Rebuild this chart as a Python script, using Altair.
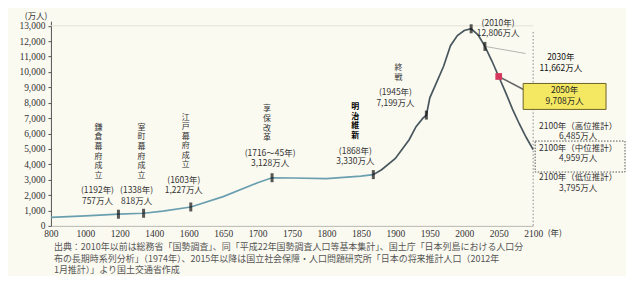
import altair as alt
import pandas as pd

# ---------------- data (万人) ----------------
years = [800, 1000, 1192, 1338, 1450, 1603, 1650, 1700, 1721, 1750, 1800, 1850, 1868,
         1880, 1900, 1920, 1930, 1940, 1945, 1950, 1960, 1970, 1980, 1990, 2000, 2010,
         2020, 2030, 2040, 2050, 2060, 2070, 2080, 2090, 2100]
population = [551, 650, 757, 818, 960, 1227, 1900, 2800, 3128, 3110, 3065, 3228, 3330,
              3650, 4385, 5596, 6445, 7000, 7199, 8320, 9342, 10372, 11706, 12361, 12693, 12806,
              12410, 11662, 10728, 9708, 8674, 7590, 6620, 5740, 4959]
split_year = 1868

x_ticks = [800, 1000, 1200, 1400, 1600, 1650, 1700, 1750, 1800, 1850, 1900, 1950, 2000, 2050, 2100]
y_ticks = list(range(0, 13001, 1000))

event_years = [1192, 1338, 1603, 1721, 1868, 1945]
event_pop = [757, 818, 1227, 3128, 3330, 7199]
event_names = ["鎌倉幕府成立", "室町幕府成立", "江戸幕府成立", "享保改革", "明治維新", "終戦"]
event_year_labels = ["(1192年)", "(1338年)", "(1603年)", "(1716〜45年)", "(1868年)", "(1945年)"]
event_pop_labels = ["757万人", "818万人", "1,227万人", "3,128万人", "3,330万人", "7,199万人"]

marker_years = [1192, 1338, 1603, 1721, 1868, 1945, 2010, 2030]
marker_pop = [757, 818, 1227, 3128, 3330, 7199, 12806, 11662]

peak = (2010, 12806, "(2010年)\n12,806万人")
y2030 = (2030, 11662, "2030年\n11,662万人")
y2050 = (2050, 9708, "2050年\n9,708万人")
proj_labels = ["2100年（高位推計）\n6,485万人", "2100年（中位推計）\n4,959万人", "2100年（低位推計）\n3,795万人"]
proj_pop = [6485, 4959, 3795]

callout_2050 = ([2050, 2086], [9708, 8860])
callout_2030 = ([2030, 2089], [11662, 11200])
guide_2100 = (2100, 12600, 0)

caption = [
    "出典：2010年以前は総務省「国勢調査」、同「平成22年国勢調査人口等基本集計」、国土庁「日本列島における人口分",
    "　　　布の長期時系列分析」（1974年）、2015年以降は国立社会保障・人口問題研究所「日本の将来推計人口（2012年",
    "　　　1月推計）」より国土交通省作成",
]

# ---------------- styles ----------------
FONT_JP = "Noto Sans CJK JP"
FONT_NUM = "Liberation Serif"
TXT = "#333333"

xscale = alt.Scale(domain=[800, 1600, 2100], range=[0, 138, 483], nice=False, zero=False)
yscale = alt.Scale(domain=[0, 13300], nice=False, zero=True)

X = alt.X("year:Q", scale=xscale,
          axis=alt.Axis(values=x_ticks, format="d", title="(年)", titleX=497, titleY=3,
                        titleAlign="left", titleBaseline="top", titleFontWeight="normal",
                        titleFont=FONT_JP, titleFontSize=8.5, titleColor=TXT,
                        labelFont=FONT_NUM, labelFontSize=9.5, labelPadding=3, labelColor=TXT,
                        ticks=False, domainColor="#b8b8b0", grid=False,
                        labelOverlap=False, labelFlush=False))
Y = alt.Y("pop:Q", scale=yscale,
          axis=alt.Axis(values=y_ticks, format=",d", title="(万人)", titleAngle=0,
                        titleX=-4, titleY=-3, titleAlign="right", titleBaseline="alphabetic",
                        titleFont=FONT_JP, titleFontSize=8.5, titleFontWeight="normal",
                        titleColor=TXT, labelFont=FONT_NUM, labelFontSize=9.5, labelColor=TXT,
                        labelPadding=3, tickSize=3, tickColor="#555", domainColor="#555",
                        grid=False))

line_df = pd.DataFrame({"year": years, "pop": population})

layers = []

# faint top line at 13,000
layers.append(alt.Chart(pd.DataFrame({"year": [800], "x2": [2100], "pop": [13000]}))
              .mark_rule(color="#e2e2d8", strokeWidth=1)
              .encode(x=X, x2="x2:Q", y=Y))

# dotted guide at 2100
layers.append(alt.Chart(pd.DataFrame({"year": [guide_2100[0]], "pop": [guide_2100[1]], "p2": [guide_2100[2]]}))
              .mark_rule(color="#888", strokeDash=[1.5, 2], strokeWidth=1)
              .encode(x=X, y=Y, y2="p2:Q"))

# population line
layers.append(alt.Chart(line_df).transform_filter(alt.datum.year <= split_year)
              .mark_line(color="#6a9fb0", strokeWidth=1.7).encode(x=X, y=Y))
layers.append(alt.Chart(line_df).transform_filter(alt.datum.year >= split_year)
              .mark_line(color="#48575e", strokeWidth=1.7).encode(x=X, y=Y))

# connectors
layers.append(alt.Chart(pd.DataFrame({"year": callout_2030[0], "pop": callout_2030[1]}))
              .mark_line(color="#b5b5b0", strokeWidth=1).encode(x=X, y=Y))
layers.append(alt.Chart(pd.DataFrame({"year": callout_2050[0], "pop": callout_2050[1]}))
              .mark_line(color="#666", strokeWidth=1.5).encode(x=X, y=Y))

# boxes
layers.append(alt.Chart(pd.DataFrame({"year": [y2050[0]], "pop": [y2050[1]]}))
              .mark_rect(width=83, height=26, xOffset=66, yOffset=20, fill="#f4e862",
                         stroke="#6b6226", strokeWidth=1)
              .encode(x=X, y=Y))
layers.append(alt.Chart(pd.DataFrame({"year": [2100], "pop": [proj_pop[1]]}))
              .mark_rect(width=90, height=31, xOffset=47, yOffset=7, fillOpacity=0,
                         stroke="#555", strokeDash=[1.5, 1.5], strokeWidth=1)
              .encode(x=X, y=Y))

# markers
layers.append(alt.Chart(pd.DataFrame({"year": marker_years, "pop": marker_pop}))
              .mark_tick(orient="vertical", thickness=3, size=9, color="#111")
              .encode(x=X, y=Y))
layers.append(alt.Chart(pd.DataFrame({"year": [y2050[0]], "pop": [y2050[1]]}))
              .mark_square(size=45, color="#d6375e", opacity=1)
              .encode(x=X, y=Y))


def note(year, pop, text, dx, dy, size=8.5, weight="normal", color=TXT, lh=10.5):
    df = pd.DataFrame({"year": [year], "pop": [pop], "t": [text]})
    return (alt.Chart(df)
            .mark_text(dx=dx, dy=dy, baseline="top", align="center", lineBreak="\n",
                       font=FONT_JP, fontSize=size, fontWeight=weight, color=color, lineHeight=lh)
            .encode(x=X, y=Y, text="t:N"))


# event label offsets: (dx label, dy label bottom, dx name)
ev_layout = {1192: (-21, -8, -20), 1338: (-7, -7, -2), 1603: (-7, -11, -5),
             1721: (-2, -9, -5), 1868: (-18, -8, -18), 1945: (-31, -7, -28)}
NAME_LH = 9.6
NAME_SIZE = 8

for yr, pp, name, yl, pl in zip(event_years, event_pop, event_names, event_year_labels, event_pop_labels):
    dxl, dyl, dxn = ev_layout[yr]
    bold = name == "明治維新"
    layers.append(note(yr, pp, yl + "\n" + pl, dxl, dyl - 20))
    layers.append(note(yr, pp, "\n".join(name), dxn, dyl - 25 - len(name) * NAME_LH,
                       size=NAME_SIZE, lh=NAME_LH,
                       weight="bold" if bold else "normal",
                       color="#000" if bold else TXT))

layers.append(note(peak[0], peak[1], peak[2], 27, -10))
layers.append(note(y2030[0], y2030[1], y2030[2], 76, 7, color="#111"))
layers.append(note(y2050[0], y2050[1], y2050[2], 66, 10, color="#222"))
for lab, pp, dy in zip(proj_labels, proj_pop, [-4.5, -6, 6]):
    layers.append(note(2100, pp, lab, 45, dy))

chart = (alt.layer(*layers)
         .properties(width=483, height=205,
                     padding={"left": 10, "top": 3, "right": 0, "bottom": 0},
                     title=alt.TitleParams(text=caption, orient="bottom", anchor="start",
                                           frame="group",
                                           fontSize=9, font=FONT_JP, fontWeight="normal",
                                           color="#555", lineHeight=11.5, offset=5, dx=3))
         .configure(background="#fbfaf1")
         .configure_view(stroke=None))

chart.save("out.html", embed_options={"renderer": "svg", "actions": False})
